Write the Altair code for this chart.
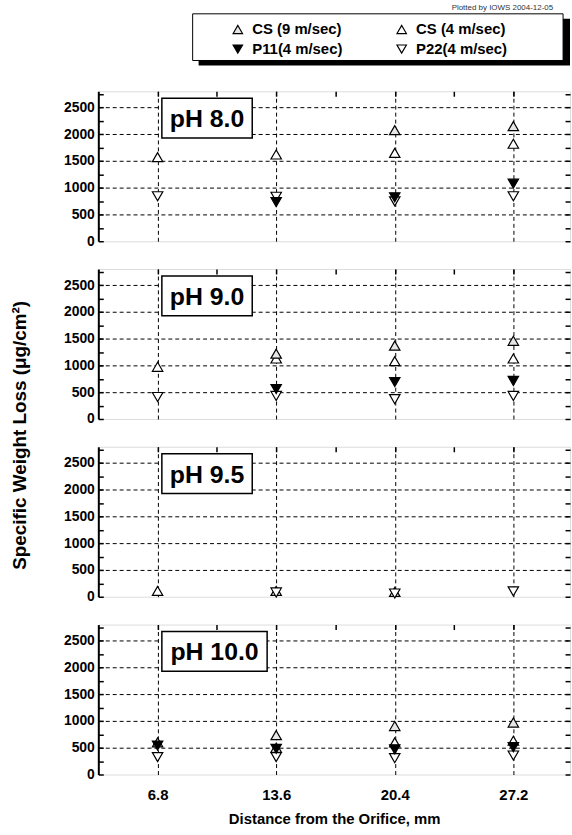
import altair as alt
import pandas as pd

FONT = "Liberation Sans"

distances = [6.8, 13.6, 20.4, 27.2]
panels = ["pH 8.0", "pH 9.0", "pH 9.5", "pH 10.0"]
series_names = ["CS  (9 m/sec)", "CS  (4 m/sec)", "P11(4 m/sec)", "P22(4 m/sec)"]

# values per panel, at distances 6.8, 13.6, 20.4, 27.2 (None = not visible)
cs9 = {
    "pH 8.0": [None, None, 2075, 2150],
    "pH 9.0": [None, 1220, 1370, 1460],
    "pH 9.5": [None, None, None, None],
    "pH 10.0": [None, 735, 905, 970],
}
cs4 = {
    "pH 8.0": [1570, 1620, 1650, 1820],
    "pH 9.0": [975, 1130, 1080, 1130],
    "pH 9.5": [110, 110, 90, None],
    "pH 10.0": [600, 500, 600, 630],
}
p11 = {
    "pH 8.0": [None, 730, 820, 1075],
    "pH 9.0": [None, 560, 690, 710],
    "pH 9.5": [None, None, None, None],
    "pH 10.0": [540, 480, 470, 510],
}
p22 = {
    "pH 8.0": [840, 830, 745, 840],
    "pH 9.0": [410, 430, 370, 430],
    "pH 9.5": [None, 80, 60, 100],
    "pH 10.0": [325, 325, 305, 355],
}

y_major = [0, 500, 1000, 1500, 2000, 2500]
y_minor = [0, 250, 500, 750, 1000, 1250, 1500, 1750, 2000, 2250, 2500, 2750]
x_minor = [6.8, 10.2, 13.6, 17.0, 20.4, 23.8, 27.2]

rows = []
for ph in panels:
    for name, src in zip(series_names, [cs9, cs4, p11, p22]):
        for d, v in zip(distances, src[ph]):
            if v is not None:
                rows.append({"panel": ph, "series": name, "distance": d, "value": v})
df = pd.DataFrame(rows)
# draw order: open markers first, filled P11 on top
order_map = {series_names[0]: 1, series_names[1]: 0, series_names[2]: 3, series_names[3]: 2}
df["ord"] = df["series"].map(order_map)
df = df.sort_values(["panel", "ord"]).reset_index(drop=True)

W, H = 475, 151
xscale = alt.Scale(domain=[3.4, 30.45], nice=False, zero=False)
yscale = alt.Scale(domain=[0, 2800], nice=False)

box_w = {"pH 8.0": 91, "pH 9.0": 91, "pH 9.5": 91, "pH 10.0": 106}

legend = alt.Legend(
    orient="none", legendX=133, legendY=-70, columns=2, direction="horizontal", title=None,
    labelFont=FONT, labelFontSize=15, labelFontWeight="bold", labelColor="black",
    symbolSize=90, symbolStrokeColor="black", symbolStrokeWidth=1.2,
    columnPadding=48, rowPadding=4, labelOffset=7, padding=0,
    labelLimit=200,
)
YTITLE = "Specific Weight Loss (μg/cm²)"


def panel(ph, last):
    d = df[df["panel"] == ph]
    base = alt.Chart(d)
    xkw = dict(
        values=distances, format=".1f", grid=True, gridDash=[4, 3], gridColor="black", gridWidth=1,
        ticks=False, domain=False, labels=last, labelFont=FONT, labelFontSize=15,
        labelFontWeight="bold", labelColor="black", labelPadding=13,
    )
    if last:
        xkw.update(title="Distance from the Orifice, mm", titleFont=FONT, titleFontSize=15,
                   titleFontWeight="bold", titleColor="black", titlePadding=9)
    else:
        xkw.update(title="")
    ykw = dict(
        values=y_major, format="d", grid=True, gridDash=[4, 3], gridColor="black", gridWidth=1,
        gridOpacity={"condition": {"test": "datum.value == 0", "value": 0}, "value": 1},
        ticks=False, domain=True, domainColor="black", domainWidth=2,
        labelFont=FONT, labelFontSize=14, labelFontWeight="bold", labelColor="black",
        labelPadding=4,
    )
    if ph == panels[1]:
        ykw.update(title=YTITLE, titleFont=FONT, titleFontSize=19, titleFontWeight="bold",
                   titleColor="black", titleAnchor="start", titleAngle=270, titleX=-79, titleY=167,
                   titleAlign="center", titleBaseline="middle")
    else:
        ykw.update(title="")
    pts = base.mark_point(filled=True, size=110, stroke="black", strokeWidth=1.2, opacity=1).encode(
        x=alt.X("distance:Q", scale=xscale, axis=alt.Axis(**xkw)),
        y=alt.Y("value:Q", scale=yscale, axis=alt.Axis(**ykw)),
        shape=alt.Shape("series:N", scale=alt.Scale(domain=series_names,
                        range=["triangle-up", "triangle-up", "triangle-down", "triangle-down"]),
                        legend=legend),
        fill=alt.Fill("series:N", scale=alt.Scale(domain=series_names,
                      range=["#e6e6e6", "white", "black", "white"]), legend=legend),
        stroke=alt.Stroke("series:N", scale=alt.Scale(domain=series_names,
                          range=["black", "black", "black", "black"]), legend=legend),
        order=alt.Order("ord:Q"),
    )
    tick_kw = dict(values=y_minor, tickSize=5, tickColor="black", tickWidth=1.5,
                   labels=False, domain=False, grid=False, title="")
    lt = base.mark_point(opacity=0).encode(
        x=alt.X("distance:Q", scale=xscale, axis=None),
        y=alt.Y("value:Q", scale=yscale, axis=alt.Axis(orient="left", offset=-5, **tick_kw)),
    )
    rt = base.mark_point(opacity=0).encode(
        x=alt.X("distance:Q", scale=xscale, axis=None),
        y=alt.Y("value:Q", scale=yscale, axis=alt.Axis(orient="right", offset=-5, **tick_kw)),
    )
    tt = base.mark_point(opacity=0).encode(
        x=alt.X("distance:Q", scale=xscale, axis=alt.Axis(
            orient="top", offset=-5, values=x_minor, tickSize=5, tickColor="black",
            tickWidth=1.5, labels=False, domain=False, grid=False, title="")),
        y=alt.Y("value:Q", scale=yscale, axis=None),
    )
    lab = pd.DataFrame({"label": [ph]})
    bw = box_w[ph]
    rect = alt.Chart(lab).mark_rect(fill="white", stroke="black", strokeWidth=1.5).encode(
        x=alt.value(64), x2=alt.value(64 + bw), y=alt.value(7), y2=alt.value(47))
    txt = alt.Chart(lab).mark_text(font=FONT, fontSize=25, fontWeight="bold", color="black",
                                   align="center", baseline="middle").encode(
        x=alt.value(64 + bw / 2), y=alt.value(28), text="label:N")
    layers = [pts, lt, rt, tt, rect, txt]
    if ph == panels[0]:
        deco = pd.DataFrame({"note": ["Plotted by IOWS 2004-12-05"]})
        shadow = alt.Chart(deco).mark_rect(fill="black").encode(
            x=alt.value(101), x2=alt.value(475), y=alt.value(-73), y2=alt.value(-26))
        box = alt.Chart(deco).mark_rect(fill="white", stroke="black", strokeWidth=1).encode(
            x=alt.value(95), x2=alt.value(468), y=alt.value(-78), y2=alt.value(-31))
        note = alt.Chart(deco).mark_text(font=FONT, fontSize=8, color="#333", align="right",
                                         baseline="bottom").encode(
            x=alt.value(458), y=alt.value(-80), text="note:N")
        layers = [shadow, box, note] + layers
    return alt.layer(*layers).resolve_axis(x="independent", y="independent").properties(
        width=W, height=H)


chart = alt.vconcat(*[panel(ph, ph == panels[-1]) for ph in panels], spacing=28,
                    bounds="flush").properties(
    padding={"left": 10, "top": 0, "right": 0, "bottom": 5},
).configure_view(stroke="black", strokeWidth=1.5).configure(background="white")

chart.save("out.html", embed_options={"renderer": "svg", "actions": False})
